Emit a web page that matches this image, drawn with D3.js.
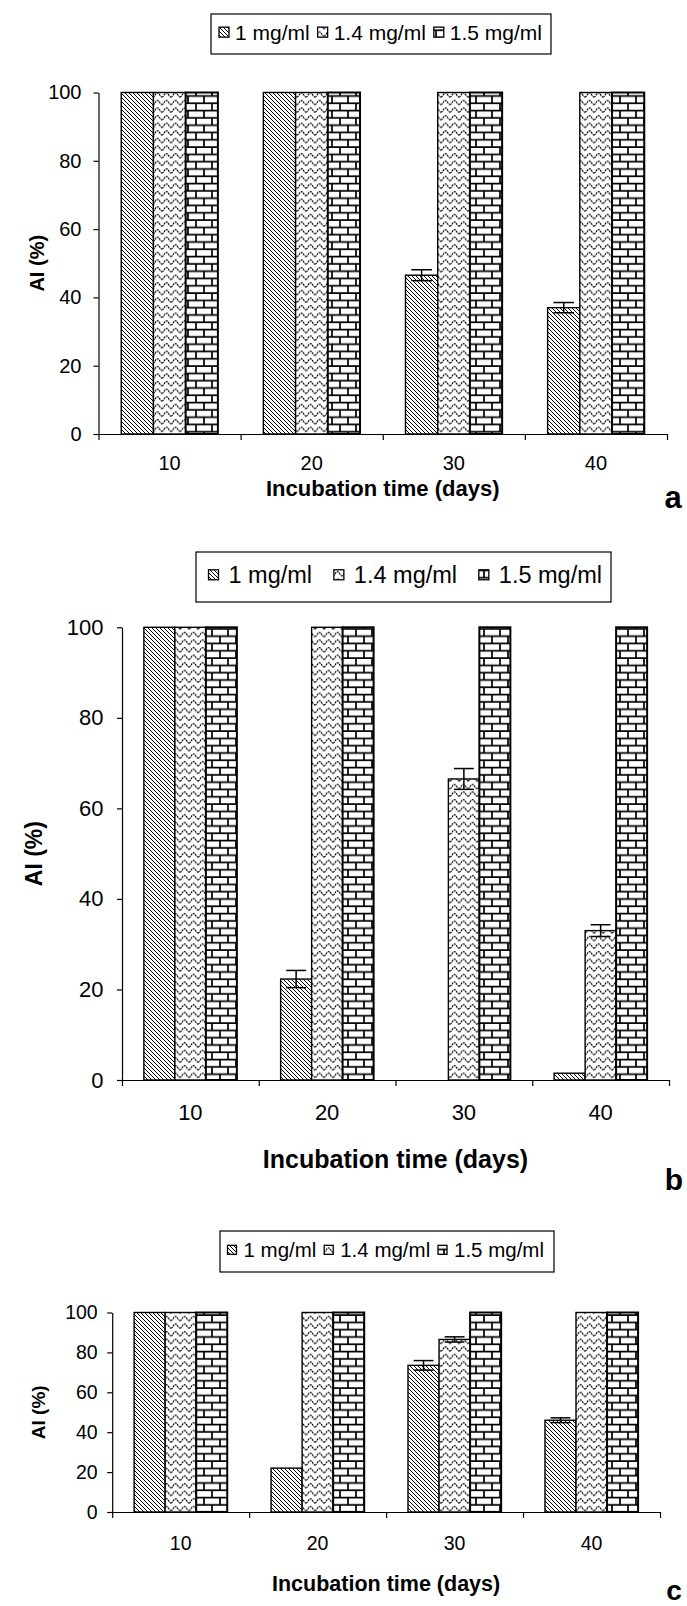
<!DOCTYPE html>
<html>
<head>
<meta charset="utf-8">
<script src="https://cdn.jsdelivr.net/npm/d3@7"></script>
<style>
  body { margin: 0; background: #fff; }
  text { font-family: "Liberation Sans", Arial, Helvetica, sans-serif; fill: #000; }
</style>
</head>
<body>
<svg id="fig" width="687" height="1606"></svg>
<script>
// categories / series
var days = ["10", "20", "30", "40"];
var series = ["1 mg/ml", "1.4 mg/ml", "1.5 mg/ml"];
var yTicks = [0, 20, 40, 60, 80, 100];

// panel a  (AI %)
var a_1mg   = [100, 100, 46.5, 37];
var a_14mg  = [100, 100, 100, 100];
var a_15mg  = [100, 100, 100, 100];
var a_err1  = [0, 0, 1.6, 1.5];
var a_err14 = [0, 0, 0, 0];
var a_err15 = [0, 0, 0, 0];

// panel b
var b_1mg   = [100, 22.3, 0, 1.5];
var b_14mg  = [100, 100, 66.5, 33];
var b_15mg  = [100, 100, 100, 100];
var b_err1  = [0, 1.9, 0, 0];
var b_err14 = [0, 0, 2.3, 1.3];
var b_err15 = [0, 0, 0, 0];

// panel c
var c_1mg   = [100, 22, 73.5, 46];
var c_14mg  = [100, 100, 86.5, 100];
var c_15mg  = [100, 100, 100, 100];
var c_err1  = [0, 0, 2.4, 1.2];
var c_err14 = [0, 0, 1.3, 0];
var c_err15 = [0, 0, 0, 0];

var svg = d3.select("#fig");
svg.append("rect").attr("width", 687).attr("height", 1606).attr("fill", "#fff");

// fill patterns (excel style)
var defs = svg.append("defs");

function pattern(id, w, h) {
	var p = defs.append("pattern").attr("id", id)
		.attr("patternUnits", "userSpaceOnUse")
		.attr("width", w).attr("height", h);
	p.append("rect").attr("width", w).attr("height", h).attr("fill", "#fff");
	return p;
}

// 1 mg/ml - downward diagonal
pattern("pat0", 4, 4).append("path")
	.attr("d", "M-1,-1L5,5M-1,3L1,5M3,-1L5,1")
	.attr("stroke", "#000").attr("stroke-width", 1);

// 1.4 mg/ml - wave
pattern("pat1", 9, 7.6).append("path")
	.attr("d", "M0,5.8 C1.8,5.8 2.7,1.6 4.5,1.6 C6.3,1.6 7.2,5.8 9,5.8")
	.attr("fill", "none").attr("stroke", "#000").attr("stroke-width", 1.1)
	.attr("stroke-dasharray", "2,0.8");

// 1.5 mg/ml - bricks
pattern("pat2", 16, 14.6).append("path")
	.attr("d", "M0,1H16M0,8.3H16M4,1V8.3M12,8.3V14.6M12,0V1")
	.attr("fill", "none").attr("stroke", "#000").attr("stroke-width", 1.7);

var barStroke = [1.4, 1.4, 2];

function drawPanel(p) {
	var g = svg.append("g");

	var x0 = d3.scaleBand().domain(days).range([p.left, p.right]).padding(0);
	var x1 = d3.scaleBand().domain(series)
		.range([x0.bandwidth() * 0.16, x0.bandwidth() * 0.84]);
	var y = d3.scaleLinear().domain([0, 100]).range([p.bottom, p.top]);
	// boundaries between the categories, where excel puts its ticks
	var xb = d3.scaleLinear().domain([0, days.length]).range([p.left, p.right]);

	var rows = [];
	days.forEach(function(d, i) {
		series.forEach(function(s, j) {
			rows.push({day: d, s: s, j: j, v: p.values[j][i], e: p.errors[j][i]});
		});
	});

	// bars
	g.selectAll("rect.bar").data(rows).join("rect")
		.attr("class", "bar")
		.attr("x", function(d) { return x0(d.day) + x1(d.s); })
		.attr("y", function(d) { return y(d.v); })
		.attr("width", x1.bandwidth())
		.attr("height", function(d) { return y(0) - y(d.v); })
		.attr("fill", function(d) { return "url(#pat" + d.j + ")"; })
		.attr("stroke", "#000")
		.attr("stroke-width", function(d) { return barStroke[d.j]; });

	// error bars
	var cap = x1.bandwidth() * 0.32;
	var eb = g.selectAll("g.err").data(rows.filter(function(d) { return d.e > 0; }))
		.join("g").attr("class", "err")
		.attr("stroke", "#000").attr("stroke-width", 1.5);
	eb.append("line")
		.attr("x1", function(d) { return x0(d.day) + x1(d.s) + x1.bandwidth() / 2; })
		.attr("x2", function(d) { return x0(d.day) + x1(d.s) + x1.bandwidth() / 2; })
		.attr("y1", function(d) { return y(d.v + d.e); })
		.attr("y2", function(d) { return y(d.v - d.e); });
	[1, -1].forEach(function(sg) {
		eb.append("line")
			.attr("x1", function(d) { return x0(d.day) + x1(d.s) + x1.bandwidth() / 2 - cap; })
			.attr("x2", function(d) { return x0(d.day) + x1(d.s) + x1.bandwidth() / 2 + cap; })
			.attr("y1", function(d) { return y(d.v + sg * d.e); })
			.attr("y2", function(d) { return y(d.v + sg * d.e); });
	});

	// y axis
	var ya = g.append("g")
		.attr("transform", "translate(" + p.left + ",0)")
		.call(d3.axisLeft(y).tickValues(yTicks).tickSize(5).tickSizeOuter(0).tickPadding(p.yPad));
	ya.attr("font-size", p.tickFont);
	ya.selectAll("line, path").attr("stroke-width", 1.2);

	// x axis line + boundary ticks
	var xa = g.append("g")
		.attr("transform", "translate(0," + p.bottom + ")")
		.call(d3.axisBottom(xb).tickValues(d3.range(0, days.length + 1))
			.tickSize(6).tickSizeOuter(0).tickFormat(""));
	xa.selectAll("line, path").attr("stroke-width", 1.2);

	// category labels
	g.selectAll("text.cat").data(days).join("text")
		.attr("class", "cat")
		.attr("x", function(d) { return x0(d) + x0.bandwidth() / 2; })
		.attr("y", p.catY)
		.attr("text-anchor", "middle")
		.attr("font-size", p.tickFont)
		.text(function(d) { return d; });

	// axis titles
	g.append("text")
		.attr("x", (p.left + p.right) / 2).attr("y", p.titleY)
		.attr("text-anchor", "middle")
		.attr("font-size", p.titleFont).attr("font-weight", "bold")
		.text("Incubation time (days)");

	g.append("text")
		.attr("transform", "translate(" + p.aiX + "," + (p.top + p.bottom) / 2 + ") rotate(-90)")
		.attr("text-anchor", "middle")
		.attr("font-size", p.aiFont).attr("font-weight", "bold")
		.text("AI (%)");

	// panel letter
	g.append("text")
		.attr("x", p.letterX).attr("y", p.letterY)
		.attr("text-anchor", "middle")
		.attr("font-size", p.letterFont).attr("font-weight", "bold")
		.text(p.letter);

	// legend
	var L = p.legend;
	var lg = g.append("g");
	lg.append("rect")
		.attr("x", L.x).attr("y", L.y).attr("width", L.w).attr("height", L.h)
		.attr("fill", "#fff").attr("stroke", "#000").attr("stroke-width", 1.2);
	var items = lg.selectAll("g.item").data(series).join("g").attr("class", "item");
	var labels = items.append("text")
		.attr("y", L.base)
		.attr("font-size", L.font)
		.text(function(d) { return d; });
	var lens = [];
	labels.each(function() { lens.push(this.getComputedTextLength()); });
	var used = d3.sum(lens) + series.length * (L.sym + L.g1);
	var gap = (L.w - L.padL - L.padR - used) / (series.length - 1);
	var cx = L.x + L.padL;
	var mid = L.base - L.font * 0.35;
	items.each(function(d, j) {
		var it = d3.select(this);
		it.insert("rect", "text")
			.attr("x", cx).attr("y", mid - L.sym / 2)
			.attr("width", L.sym).attr("height", L.sym)
			.attr("fill", "url(#pat" + j + ")")
			.attr("stroke", "#000").attr("stroke-width", 1.3);
		it.select("text").attr("x", cx + L.sym + L.g1);
		cx += L.sym + L.g1 + lens[j] + gap;
	});
}

drawPanel({
	values: [a_1mg, a_14mg, a_15mg], errors: [a_err1, a_err14, a_err15],
	left: 98.5, right: 667, top: 92.5, bottom: 434,
	tickFont: 20, yPad: 12, catY: 470,
	titleY: 496, titleFont: 22, aiX: 44, aiFont: 20,
	letter: "a", letterX: 673, letterY: 508, letterFont: 31,
	legend: {x: 211, y: 14, w: 340, h: 40, font: 21, base: 39.5, sym: 10, g1: 6, padL: 8, padR: 9}
});

drawPanel({
	values: [b_1mg, b_14mg, b_15mg], errors: [b_err1, b_err14, b_err15],
	left: 122, right: 669, top: 627.3, bottom: 1080,
	tickFont: 22, yPad: 13.5, catY: 1120,
	titleY: 1168, titleFont: 25, aiX: 42, aiFont: 23,
	letter: "b", letterX: 674, letterY: 1190, letterFont: 30,
	legend: {x: 196, y: 552, w: 415, h: 50, font: 23.5, base: 583, sym: 10, g1: 10, padL: 12.5, padR: 9}
});

drawPanel({
	values: [c_1mg, c_14mg, c_15mg], errors: [c_err1, c_err14, c_err15],
	left: 112.2, right: 660, top: 1312.5, bottom: 1512,
	tickFont: 19.5, yPad: 9.5, catY: 1550,
	titleY: 1591, titleFont: 21.5, aiX: 45, aiFont: 19,
	letter: "c", letterX: 674, letterY: 1600, letterFont: 28,
	legend: {x: 220, y: 1231, w: 334, h: 41, font: 20.5, base: 1257, sym: 9, g1: 7, padL: 7.5, padR: 10}
});
</script>
</body>
</html>
